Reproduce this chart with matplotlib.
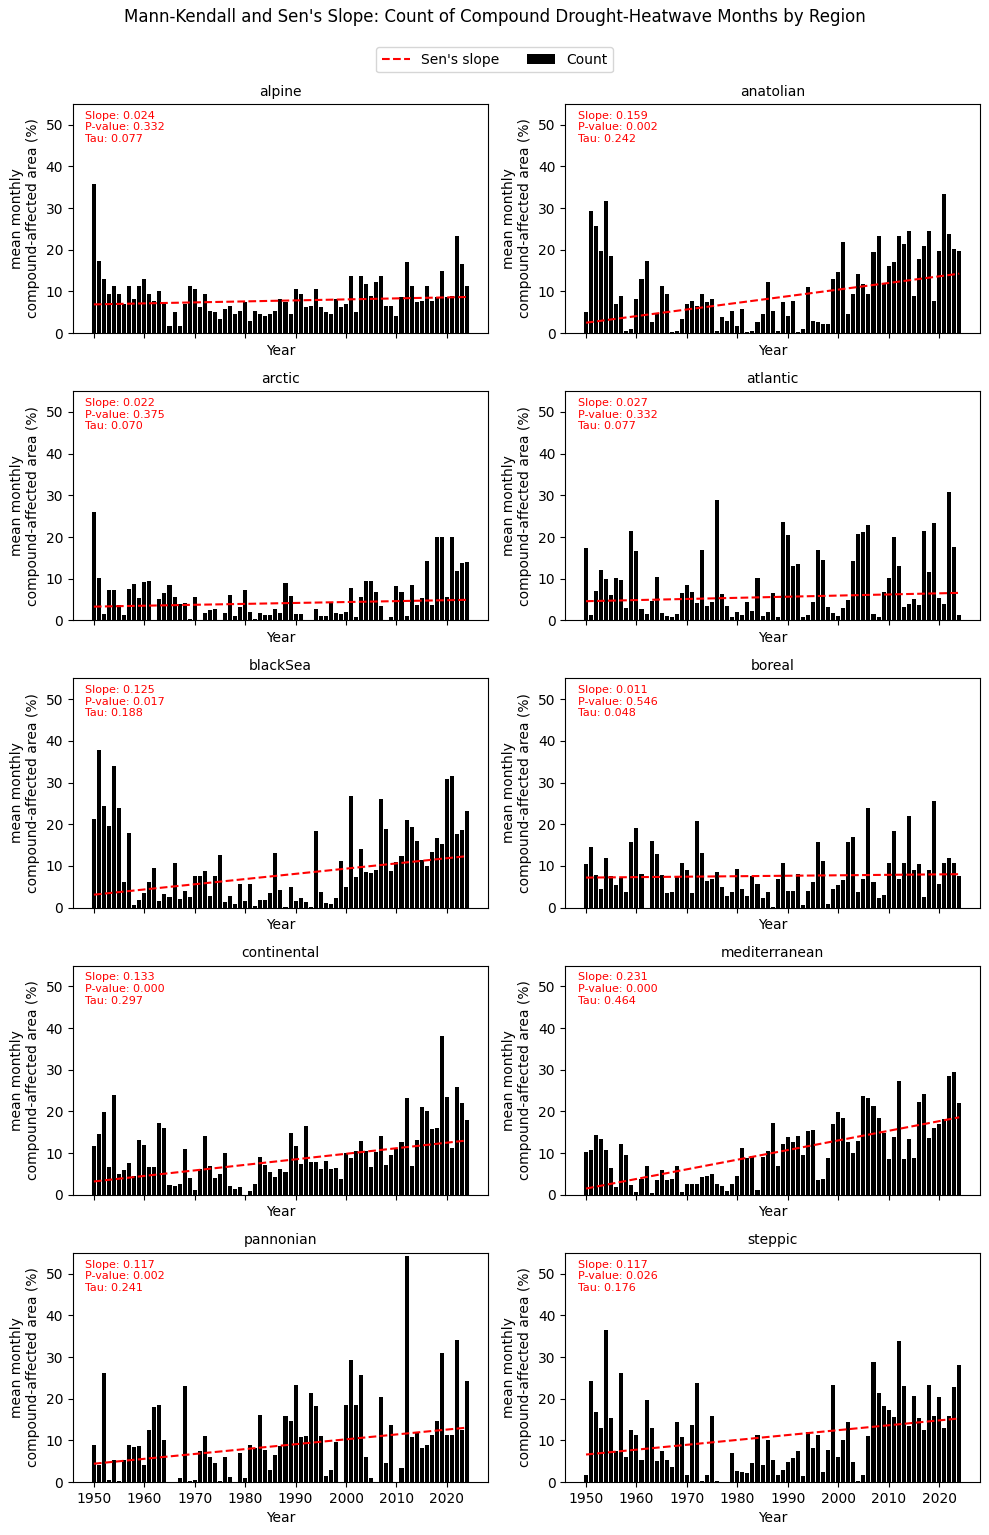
import numpy as np
import matplotlib
matplotlib.use('Agg')
import matplotlib.pyplot as plt

#==================================
#          data
#==================================
years = np.arange(1950, 2025)

regions = ['alpine', 'anatolian', 'arctic', 'atlantic', 'blackSea',
           'boreal', 'continental', 'mediterranean', 'pannonian', 'steppic']

alpine = [35.9, 17.2, 13.1, 9.5, 11.2, 9.3, 7.0, 11.4, 8.3, 11.4,
          12.9, 9.3, 7.6, 10.0, 7.0, 1.8, 5.0, 1.8, 7.0, 11.2,
          10.5, 6.2, 9.5, 5.2, 5.0, 3.3, 5.7, 6.4, 4.7, 5.4,
          7.4, 2.8, 5.4, 4.5, 4.2, 4.7, 5.2, 8.3, 7.4, 4.7,
          10.5, 9.3, 6.2, 6.4, 10.7, 6.2, 5.0, 4.7, 8.3, 6.2,
          6.9, 13.6, 5.0, 13.8, 11.7, 8.8, 12.2, 13.6, 6.4, 6.4,
          4.0, 8.6, 17.0, 11.4, 7.4, 7.6, 11.2, 7.6, 8.6, 14.8,
          8.6, 9.0, 23.2, 16.5, 11.4]
anatolian = [5.0, 29.2, 25.6, 19.8, 31.8, 18.6, 6.9, 9.0, 0.6, 0.9,
             8.3, 13.1, 17.2, 2.6, 4.5, 11.2, 9.3, 0.2, 0.4, 3.3,
             6.9, 7.8, 6.6, 9.3, 7.4, 8.3, 0.6, 3.8, 2.8, 5.4,
             1.8, 5.9, 0.2, 0.6, 2.6, 4.7, 12.2, 5.2, 0.4, 7.4,
             4.2, 7.6, 0.2, 0.9, 11.0, 2.8, 2.6, 2.3, 2.3, 13.1,
             14.6, 21.8, 4.7, 9.3, 14.1, 11.9, 9.5, 19.4, 23.4, 11.9,
             16.2, 17.0, 23.2, 21.3, 24.4, 9.0, 17.9, 20.8, 24.4, 7.8,
             19.6, 33.3, 23.9, 20.1, 19.6]
arctic = [26.1, 10.2, 1.6, 7.4, 7.4, 3.8, 1.4, 7.6, 8.8, 5.4,
          9.3, 9.5, 0.0, 5.2, 6.6, 8.6, 5.7, 4.0, 4.2, 0.4,
          5.7, 0.2, 1.8, 2.6, 2.8, 0.2, 1.8, 6.2, 1.1, 3.3,
          7.4, 2.1, 0.4, 1.8, 1.4, 1.4, 2.8, 1.8, 9.0, 5.9,
          1.6, 1.6, 0.0, 0.0, 2.8, 1.1, 1.1, 4.2, 1.8, 1.6,
          2.1, 7.8, 0.9, 5.7, 9.5, 9.5, 6.9, 3.5, 0.2, 0.9,
          8.3, 6.9, 1.1, 8.6, 3.8, 5.4, 14.3, 3.8, 20.1, 20.1,
          5.7, 20.1, 11.9, 13.8, 14.1]
atlantic = [17.4, 1.4, 7.1, 12.2, 10.0, 6.2, 10.2, 9.8, 3.0, 21.5,
            16.7, 2.8, 1.6, 4.7, 10.5, 1.8, 1.1, 0.9, 1.6, 6.6,
            8.6, 6.9, 4.2, 17.0, 3.5, 4.5, 29.0, 6.4, 3.5, 0.9,
            2.1, 1.4, 4.5, 2.3, 10.2, 1.1, 2.1, 6.6, 0.9, 23.7,
            20.6, 13.1, 13.6, 0.9, 1.4, 4.5, 17.0, 14.6, 3.3, 1.8,
            1.1, 3.0, 5.0, 14.3, 20.8, 21.3, 23.0, 1.6, 0.9, 6.9,
            10.2, 20.1, 13.1, 3.3, 4.0, 5.2, 3.8, 21.5, 11.7, 23.4,
            5.4, 4.0, 30.9, 17.7, 1.4]
blackSea = [21.3, 37.8, 24.4, 19.6, 34.0, 23.9, 6.2, 17.9, 0.6, 1.8,
            3.5, 6.2, 9.5, 1.6, 3.3, 2.6, 10.7, 2.1, 4.0, 2.6,
            7.6, 7.6, 8.8, 2.8, 7.6, 12.6, 1.4, 2.8, 0.9, 5.7,
            1.6, 5.7, 0.4, 1.8, 1.8, 3.5, 13.1, 4.2, 0.2, 5.0,
            1.6, 2.3, 1.4, 0.2, 18.4, 3.8, 1.1, 0.9, 2.3, 11.2,
            5.0, 26.8, 7.4, 14.1, 8.6, 8.3, 9.0, 26.1, 18.9, 8.8,
            11.0, 12.4, 21.0, 19.4, 16.0, 11.4, 10.0, 13.4, 16.7, 15.3,
            30.9, 31.6, 17.7, 18.6, 23.2]
boreal = [10.5, 14.6, 7.8, 4.5, 11.9, 7.6, 5.4, 7.1, 3.8, 15.8,
          19.1, 8.1, 0.0, 16.0, 12.9, 7.8, 3.5, 3.8, 7.4, 10.7,
          9.0, 3.5, 20.8, 13.1, 6.4, 6.9, 8.6, 5.0, 2.8, 3.8,
          9.3, 4.5, 2.8, 7.6, 5.7, 2.3, 3.8, 0.2, 6.9, 10.7,
          4.0, 4.0, 8.1, 0.6, 4.0, 6.2, 15.8, 11.2, 0.9, 4.5,
          5.4, 6.6, 15.8, 17.0, 3.8, 6.9, 23.9, 6.2, 2.3, 3.0,
          10.7, 18.4, 6.9, 10.7, 22.0, 9.0, 10.5, 2.6, 9.0, 25.6,
          5.7, 10.7, 11.9, 10.7, 7.6]
continental = [11.7, 14.6, 19.8, 6.6, 23.9, 5.0, 5.9, 7.6, 4.5, 13.1,
               11.9, 6.6, 6.6, 17.2, 16.0, 2.3, 2.1, 2.6, 11.0, 4.0,
               1.1, 6.2, 14.1, 6.9, 4.0, 5.0, 10.0, 2.1, 1.4, 1.8,
               0.0, 0.9, 2.6, 9.0, 7.1, 5.4, 4.2, 6.2, 5.4, 14.8,
               11.7, 7.4, 16.5, 7.8, 7.8, 6.2, 8.1, 6.2, 6.4, 3.8,
               10.0, 8.8, 10.5, 12.9, 10.5, 6.6, 10.2, 14.1, 7.1, 9.5,
               11.0, 12.6, 23.2, 6.9, 13.1, 21.0, 20.1, 15.8, 16.0, 38.1,
               23.4, 11.2, 25.8, 22.0, 17.9]
mediterranean = [10.2, 10.7, 14.3, 13.4, 10.7, 6.4, 1.8, 12.2, 9.5, 2.3,
                 0.6, 3.8, 6.9, 0.4, 3.5, 5.9, 3.5, 3.8, 6.9, 0.6,
                 2.6, 2.6, 2.6, 4.2, 4.5, 5.0, 2.6, 2.1, 0.9, 2.6,
                 4.5, 11.2, 8.8, 9.3, 1.1, 9.0, 10.5, 17.2, 6.9, 12.2,
                 13.8, 12.6, 14.1, 9.5, 15.3, 15.5, 3.5, 3.8, 8.8, 17.0,
                 19.8, 18.4, 12.6, 10.0, 12.9, 23.7, 23.2, 21.3, 18.4, 14.8,
                 8.6, 13.8, 27.3, 8.6, 13.4, 8.8, 22.2, 24.2, 13.6, 16.0,
                 17.0, 18.2, 28.5, 29.4, 22.0]
pannonian = [8.8, 4.2, 26.1, 0.6, 5.4, 0.2, 5.2, 8.8, 8.3, 8.6,
             4.2, 12.6, 17.9, 18.6, 10.2, 0.0, 0.0, 0.9, 23.0, 0.2,
             0.6, 7.4, 11.0, 5.9, 4.5, 0.2, 5.9, 1.1, 0.0, 6.9,
             0.9, 8.8, 8.1, 16.2, 7.8, 3.0, 6.4, 8.6, 15.8, 14.6,
             23.4, 10.7, 11.0, 21.3, 18.2, 11.0, 1.4, 2.8, 9.5, 0.0,
             18.6, 29.4, 18.6, 25.6, 5.9, 0.9, 0.0, 20.3, 4.5, 13.8,
             0.0, 3.3, 54.2, 10.7, 11.7, 8.1, 8.8, 11.4, 14.6, 30.9,
             11.2, 11.4, 34.2, 12.6, 24.2]
steppic = [1.6, 24.2, 16.7, 12.9, 36.6, 15.3, 7.4, 26.1, 5.9, 12.6,
           11.2, 5.2, 19.6, 12.9, 5.0, 7.4, 5.4, 3.5, 14.3, 10.7,
           1.6, 13.6, 23.7, 0.2, 1.6, 15.8, 0.2, 0.0, 0.0, 6.9,
           2.6, 2.3, 2.1, 4.5, 11.2, 4.2, 10.0, 5.4, 1.6, 3.0,
           4.7, 5.7, 7.4, 1.4, 11.9, 8.1, 11.2, 2.3, 7.8, 23.4,
           5.9, 10.2, 14.3, 4.7, 0.2, 1.8, 11.0, 28.7, 21.3, 18.2,
           17.4, 15.5, 33.8, 23.0, 13.4, 20.6, 15.3, 12.6, 23.2, 15.8,
           20.3, 12.9, 15.8, 22.7, 28.0]

counts = [alpine, anatolian, arctic, atlantic, blackSea,
          boreal, continental, mediterranean, pannonian, steppic]

# Mann-Kendall / Sen's slope results as shown
slopes = [0.024, 0.159, 0.022, 0.027, 0.125, 0.011, 0.133, 0.231, 0.117, 0.117]
pvalues = [0.332, 0.002, 0.375, 0.332, 0.017, 0.546, 0.000, 0.000, 0.002, 0.026]
taus = [0.077, 0.242, 0.070, 0.077, 0.188, 0.048, 0.297, 0.464, 0.241, 0.176]
# trend value at the first year (1950)
intercepts = [6.9, 2.5, 3.3, 4.6, 3.1, 7.2, 3.2, 1.5, 4.4, 6.6]

#==================================
#          plot
#==================================
fig, axes = plt.subplots(5, 2, figsize=(9.89, 15.35), dpi=100, sharex=True)
fig.subplots_adjust(left=0.0738, right=0.991, top=0.9323, bottom=0.0345,
                    wspace=0.186, hspace=0.253)

for i, ax in enumerate(axes.flat):
    y = np.array(counts[i])
    b = ax.bar(years, y, width=0.8, color='black', label='Count')
    trend = intercepts[i] + slopes[i] * (years - years[0])
    l, = ax.plot(years, trend, 'r--', lw=1.5, label="Sen's slope")
    ax.set_title(regions[i], fontsize=10)
    ax.set_ylim(0, 55)
    ax.set_xlabel('Year')
    ax.set_ylabel('mean monthly\ncompound-affected area (%)')
    ax.text(0.03, 0.97, 'Slope: %.3f\nP-value: %.3f\nTau: %.3f'
            % (slopes[i], pvalues[i], taus[i]),
            transform=ax.transAxes, color='red', fontsize=8,
            va='top', ha='left')
    ax.tick_params(axis='x', labelbottom=(i >= 8))

fig.suptitle("Mann-Kendall and Sen's Slope: Count of Compound Drought-Heatwave Months by Region",
             fontsize=12, y=0.9945)
fig.legend(handles=[l, b], labels=["Sen's slope", 'Count'],
           loc='upper center', bbox_to_anchor=(0.5, 0.9737), ncol=2)

plt.savefig('out.png', dpi=100)
